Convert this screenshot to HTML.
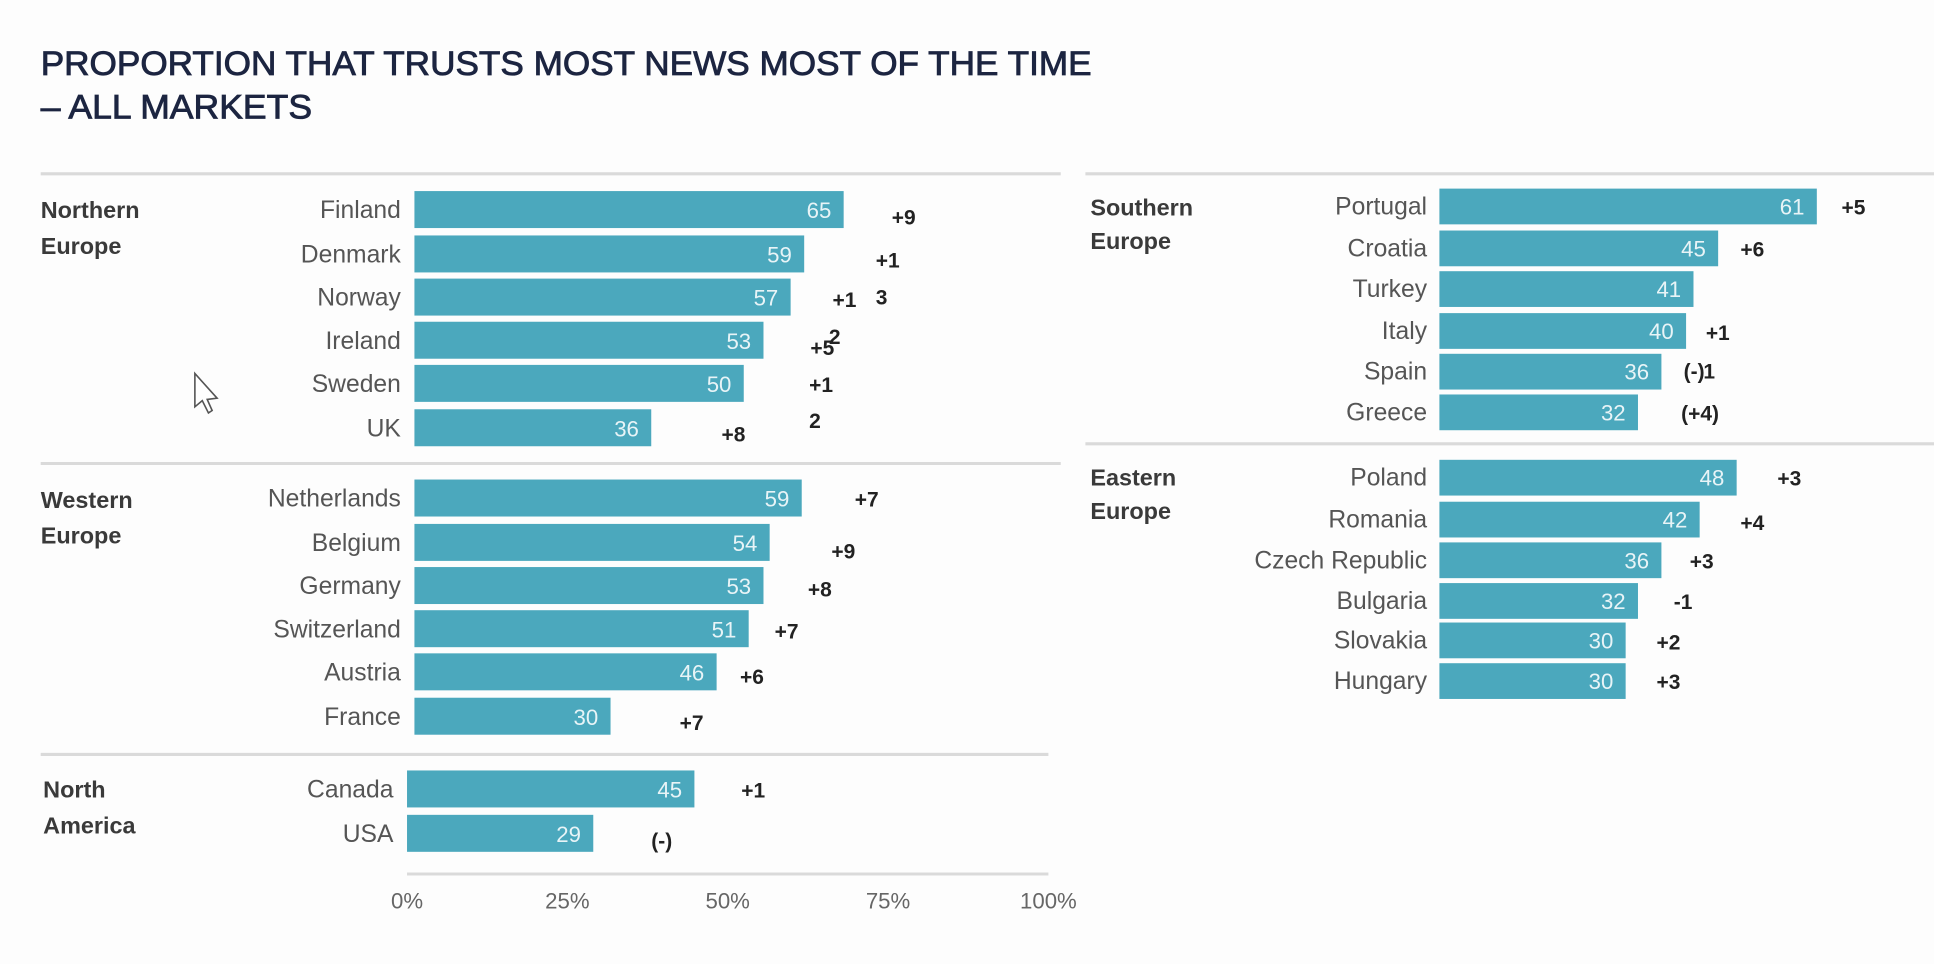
<!DOCTYPE html>
<html><head><meta charset="utf-8"><style>
html,body{margin:0;padding:0;background:#fdfdfd;}
svg{display:block;}
text{font-family:"Liberation Sans",sans-serif;}
.c{font-size:20px;fill:#555;text-anchor:end;}
.r{font-size:19px;font-weight:bold;fill:#3a3a3a;}
.v{font-size:18px;fill:#e8f4f7;text-anchor:end;}
.d{font-size:17px;font-weight:bold;fill:#222;}
.t{font-size:18px;fill:#666;text-anchor:middle;}
</style></head><body>
<svg width="1934" height="964" viewBox="0 0 1568 782" preserveAspectRatio="none" xmlns="http://www.w3.org/2000/svg">
<rect width="1568" height="782" fill="#fdfdfd"/>
<text x="33" y="61" font-size="28" fill="#1c2541" stroke="#1c2541" stroke-width="0.7" textLength="852" lengthAdjust="spacingAndGlyphs">PROPORTION THAT TRUSTS MOST NEWS MOST OF THE TIME</text>
<text x="33" y="96" font-size="28" fill="#1c2541" stroke="#1c2541" stroke-width="0.7" textLength="220" lengthAdjust="spacingAndGlyphs">– ALL MARKETS</text>
<g stroke="#dadada" stroke-width="2.5">
<line x1="33" y1="141" x2="860" y2="141"/>
<line x1="880" y1="141" x2="1568" y2="141"/>
<line x1="33" y1="376" x2="860" y2="376"/>
<line x1="33" y1="612" x2="850" y2="612"/>
<line x1="880" y1="360" x2="1568" y2="360"/>
<line x1="330" y1="709" x2="850" y2="709"/>
</g>
<g fill="#4ba8bd">
<rect x="336" y="155" width="348" height="30"/>
<rect x="336" y="191" width="316" height="30"/>
<rect x="336" y="226" width="305" height="30"/>
<rect x="336" y="261" width="283" height="30"/>
<rect x="336" y="296" width="267" height="30"/>
<rect x="336" y="332" width="192" height="30"/>
<rect x="336" y="389" width="314" height="30"/>
<rect x="336" y="425" width="288" height="30"/>
<rect x="336" y="460" width="283" height="30"/>
<rect x="336" y="495" width="271" height="30"/>
<rect x="336" y="530" width="245" height="30"/>
<rect x="336" y="566" width="159" height="30"/>
<rect x="330" y="625" width="233" height="30"/>
<rect x="330" y="661" width="151" height="30"/>
<rect x="1167" y="153" width="306" height="29"/>
<rect x="1167" y="187" width="226" height="29"/>
<rect x="1167" y="220" width="206" height="29"/>
<rect x="1167" y="254" width="200" height="29"/>
<rect x="1167" y="287" width="180" height="29"/>
<rect x="1167" y="320" width="161" height="29"/>
<rect x="1167" y="373" width="241" height="29"/>
<rect x="1167" y="407" width="211" height="29"/>
<rect x="1167" y="440" width="180" height="29"/>
<rect x="1167" y="473" width="161" height="29"/>
<rect x="1167" y="505" width="151" height="29"/>
<rect x="1167" y="538" width="151" height="29"/>
</g>
<text class="r" x="33" y="177">Northern</text><text class="r" x="33" y="206">Europe</text>
<text class="r" x="33" y="412">Western</text><text class="r" x="33" y="441">Europe</text>
<text class="r" x="35" y="647">North</text><text class="r" x="35" y="676">America</text>
<text class="r" x="884" y="175">Southern</text><text class="r" x="884" y="202">Europe</text>
<text class="r" x="884" y="394">Eastern</text><text class="r" x="884" y="421">Europe</text>
<g class="c">
<text x="325" y="177">Finland</text><text x="325" y="213">Denmark</text><text x="325" y="248">Norway</text>
<text x="325" y="283">Ireland</text><text x="325" y="318">Sweden</text><text x="325" y="354">UK</text>
<text x="325" y="411">Netherlands</text><text x="325" y="447">Belgium</text><text x="325" y="482">Germany</text>
<text x="325" y="517">Switzerland</text><text x="325" y="552">Austria</text><text x="325" y="588">France</text>
<text x="319" y="647">Canada</text><text x="319" y="683">USA</text>
<text x="1157" y="174">Portugal</text><text x="1157" y="208">Croatia</text><text x="1157" y="241">Turkey</text>
<text x="1157" y="275">Italy</text><text x="1157" y="308">Spain</text><text x="1157" y="341">Greece</text>
<text x="1157" y="394">Poland</text><text x="1157" y="428">Romania</text><text x="1157" y="461">Czech Republic</text>
<text x="1157" y="494">Bulgaria</text><text x="1157" y="526">Slovakia</text><text x="1157" y="559">Hungary</text>
</g>
<g class="v">
<text x="674" y="177">65</text><text x="642" y="213">59</text><text x="631" y="248">57</text>
<text x="609" y="283">53</text><text x="593" y="318">50</text><text x="518" y="354">36</text>
<text x="640" y="411">59</text><text x="614" y="447">54</text><text x="609" y="482">53</text>
<text x="597" y="517">51</text><text x="571" y="552">46</text><text x="485" y="588">30</text>
<text x="553" y="647">45</text><text x="471" y="683">29</text>
<text x="1463" y="174">61</text><text x="1383" y="208">45</text><text x="1363" y="241">41</text>
<text x="1357" y="275">40</text><text x="1337" y="308">36</text><text x="1318" y="341">32</text>
<text x="1398" y="394">48</text><text x="1368" y="428">42</text><text x="1337" y="461">36</text>
<text x="1318" y="494">32</text><text x="1308" y="526">30</text><text x="1308" y="559">30</text>
</g>
<g class="d">
<text x="723" y="182">+9</text><text x="710" y="217">+1</text>
<text x="675" y="249">+1</text><text x="710" y="247">3</text>
<text x="657" y="288">+5</text><text x="672" y="279">2</text>
<text x="656" y="318">+1</text>
<text x="585" y="358">+8</text><text x="656" y="347">2</text>
<text x="693" y="411">+7</text><text x="674" y="453">+9</text><text x="655" y="484">+8</text>
<text x="628" y="518">+7</text><text x="600" y="555">+6</text><text x="551" y="592">+7</text>
<text x="601" y="647">+1</text><text x="528" y="688">(-)</text>
<text x="1493" y="174">+5</text><text x="1411" y="208">+6</text><text x="1383" y="276">+1</text>
<text x="1365" y="307">(-)</text><text x="1381" y="307">1</text>
<text x="1363" y="341">(+4)</text>
<text x="1441" y="394">+3</text><text x="1411" y="430">+4</text><text x="1370" y="461">+3</text>
<text x="1357" y="494">-1</text><text x="1343" y="527">+2</text><text x="1343" y="559">+3</text>
</g>
<g class="t">
<text x="330" y="737">0%</text><text x="460" y="737">25%</text><text x="590" y="737">50%</text>
<text x="720" y="737">75%</text><text x="850" y="737">100%</text>
</g>
<path d="M158,303 L158,330 L164,325 L169,335 L172,333 L168,324 L176,323 Z" fill="#fff" stroke="#555" stroke-width="1.3"/>
</svg>
</body></html>
